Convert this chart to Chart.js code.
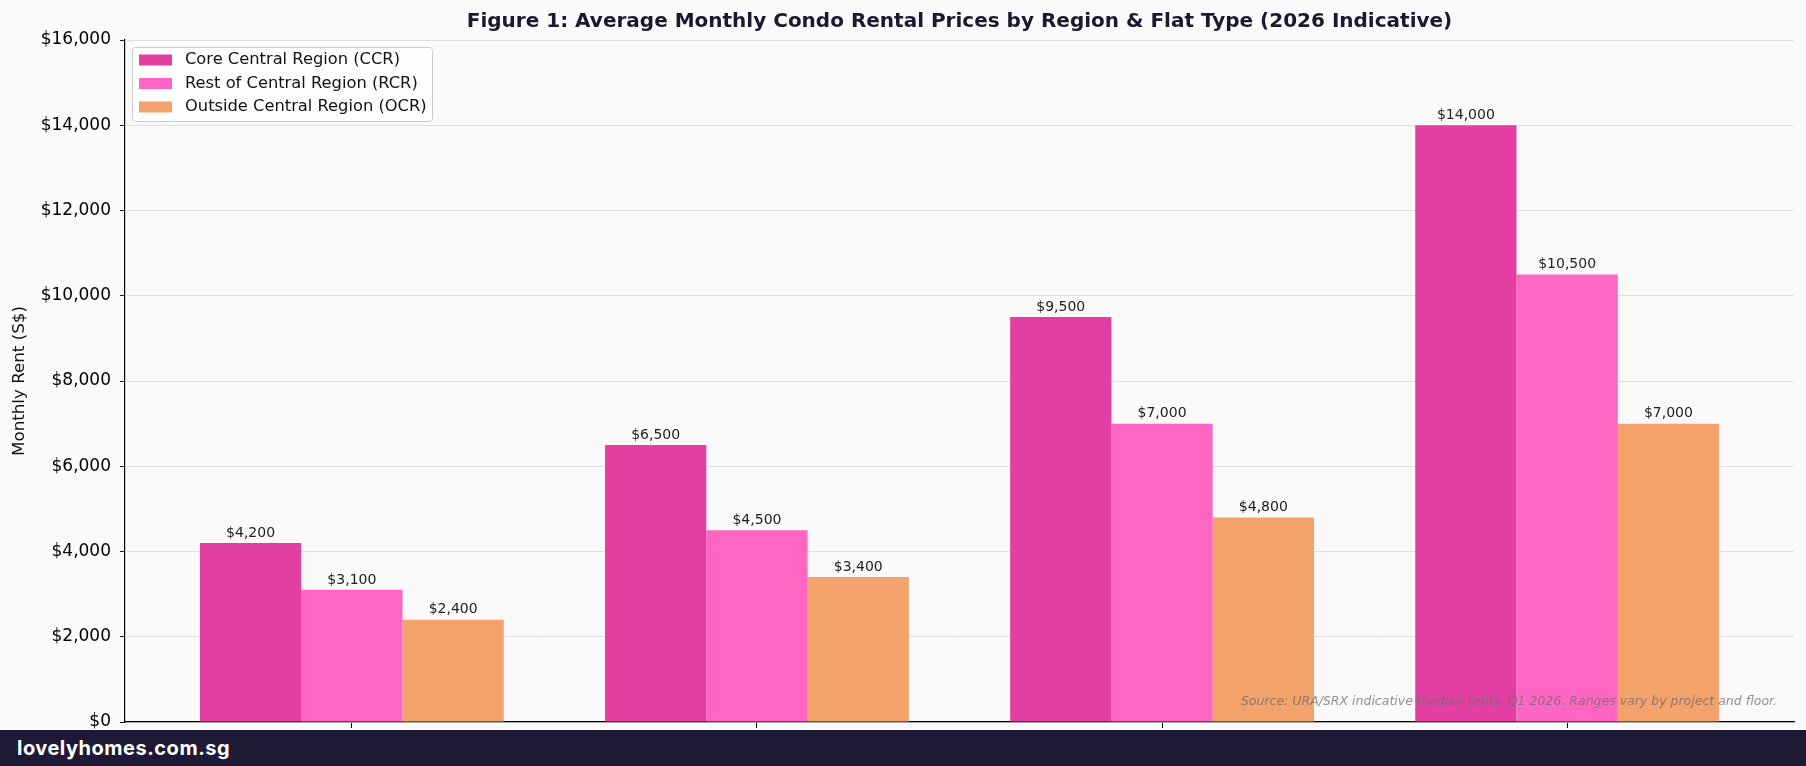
<!DOCTYPE html>
<html>
<head>
<meta charset="utf-8">
<script src="https://cdn.jsdelivr.net/npm/chart.js@4.4.1/dist/chart.umd.min.js"></script>
<style>
  html, body {
    margin: 0;
    padding: 0;
    background: #fafafa;
  }

  #wrap {
    position: relative;
    width: 1806px;
    height: 730px;
  }

  #footer {
    width: 1806px;
    height: 36px;
    background: #1e1a36;
    color: #ffffff;
    font-family: Inter, "Noto Sans", sans-serif;
    font-weight: 700;
    font-size: 20px;
    letter-spacing: 0.5px;
    line-height: 36px;
    padding-left: 17px;
    box-sizing: border-box;
  }
</style>
</head>
<body>
<div id="wrap"><canvas id="grafico"></canvas></div>
<div id="footer">lovelyhomes.com.sg</div>

<script>
const flatTypes = ["1-Bedroom", "2-Bedroom", "3-Bedroom", "4-Bedroom"];

const regionNames = [
  "Core Central Region (CCR)",
  "Rest of Central Region (RCR)",
  "Outside Central Region (OCR)",
];

const ccrRents = [4200, 6500, 9500, 14000];
const rcrRents = [3100, 4500, 7000, 10500];
const ocrRents = [2400, 3400, 4800, 7000];

const regionColors = ["#e33fa3", "#ff66c4", "#f4a26b"];

const yTicks = [0, 2000, 4000, 6000, 8000, 10000, 12000, 14000, 16000];

const chartTitle =
  "Figure 1: Average Monthly Condo Rental Prices by Region & Flat Type (2026 Indicative)";
const sourceNote =
  "Source: URA/SRX indicative median rents, Q1 2026. Ranges vary by project and floor.";

function money(v) {
  return "$" + v.toLocaleString("en-US");
}

function toPoints(values) {
  return values.map((v, i) => ({ x: i, y: v }));
}

const seriesValues = [ccrRents, rcrRents, ocrRents];

const datasets = seriesValues.map((values, i) => ({
  label: regionNames[i],
  data: toPoints(values),
  backgroundColor: regionColors[i],
  borderWidth: 0,
  categoryPercentage: 0.75,
  barPercentage: 1.0,
}));

// title, value labels, source line and the boxed legend inside the plot
const extras = {
  id: "extras",

  afterDatasetsDraw(chart) {
    const ctx = chart.ctx;
    const area = chart.chartArea;

    ctx.save();
    ctx.font = "14px 'DejaVu Sans'";
    ctx.fillStyle = "#222222";
    ctx.textAlign = "center";
    ctx.textBaseline = "bottom";

    chart.data.datasets.forEach((ds, d) => {
      const meta = chart.getDatasetMeta(d);
      meta.data.forEach((bar, i) => {
        ctx.fillText(money(ds.data[i].y), bar.x, bar.y - 3);
      });
    });

    ctx.font = "italic 12.5px 'DejaVu Sans'";
    ctx.fillStyle = "rgba(110, 110, 110, 0.75)";
    ctx.textAlign = "right";
    ctx.textBaseline = "middle";
    ctx.fillText(sourceNote, area.right - 17, area.bottom - 20);
    ctx.restore();
  },

  afterDraw(chart) {
    const ctx = chart.ctx;
    const area = chart.chartArea;

    ctx.save();
    ctx.font = "bold 20px 'DejaVu Sans'";
    ctx.fillStyle = "#1a1a2e";
    ctx.textAlign = "center";
    ctx.textBaseline = "middle";
    ctx.fillText(chartTitle, (area.left + area.right) / 2, 21.5);

    // legend box
    const bx = area.left + 7;
    const by = area.top + 7;
    const bw = 300;
    const bh = 74;

    ctx.fillStyle = "rgba(255, 255, 255, 0.8)";
    ctx.strokeStyle = "#cccccc";
    ctx.lineWidth = 1;
    ctx.beginPath();
    ctx.roundRect(bx + 0.5, by + 0.5, bw, bh, 3);
    ctx.fill();
    ctx.stroke();

    ctx.font = "16.3px 'DejaVu Sans'";
    ctx.textAlign = "left";
    ctx.textBaseline = "middle";

    regionNames.forEach((name, i) => {
      const cy = by + 13 + i * 23.5;
      ctx.fillStyle = regionColors[i];
      ctx.fillRect(bx + 7, cy - 5.5, 33, 11);
      ctx.fillStyle = "#111111";
      ctx.fillText(name, bx + 53, cy);
    });
    ctx.restore();
  },
};

const grafico = new Chart(document.getElementById("grafico"), {
  type: "bar",

  data: {
    labels: flatTypes,
    datasets: datasets,
  },

  options: {
    responsive: true,
    maintainAspectRatio: false,
    animation: false,

    layout: {
      padding: { left: 0, top: 40, right: 12, bottom: 0 },
    },

    plugins: {
      legend: { display: false },
      tooltip: { enabled: false },
    },

    scales: {
      x: {
        type: "linear",
        min: -0.56,
        max: 3.56,
        bounds: "data",
        offset: false,
        afterBuildTicks: (scale) => {
          scale.ticks = flatTypes.map((_, i) => ({ value: i }));
        },
        afterFit: (scale) => {
          scale.height = 8;
          scale.paddingLeft = 0;
          scale.paddingRight = 0;
        },
        ticks: {
          display: false,
        },
        grid: {
          offset: false,
          drawOnChartArea: false,
          drawTicks: true,
          tickLength: 6,
          color: "#000000",
          lineWidth: 1,
        },
        border: {
          display: true,
          color: "#000000",
          width: 1.2,
        },
      },

      y: {
        min: 0,
        max: 16000,
        afterBuildTicks: (scale) => {
          scale.ticks = yTicks.map((v) => ({ value: v }));
        },
        afterFit: (scale) => {
          scale.width = 125;
          scale.paddingTop = 0;
          scale.paddingBottom = 0;
        },
        ticks: {
          color: "#000000",
          padding: 9,
          font: { family: "DejaVu Sans", size: 17 },
          callback: (v) => money(v),
        },
        grid: {
          color: "#dddddd",
          lineWidth: 0.9,
          drawTicks: true,
          tickLength: 5,
          tickColor: "#000000",
        },
        border: {
          display: true,
          color: "#000000",
          width: 1.2,
        },
        title: {
          display: true,
          text: "Monthly Rent (S$)",
          color: "#111111",
          font: { family: "DejaVu Sans", size: 16.7 },
          padding: { top: 10, bottom: 0 },
        },
      },
    },
  },

  plugins: [extras],
});
</script>
</body>
</html>
